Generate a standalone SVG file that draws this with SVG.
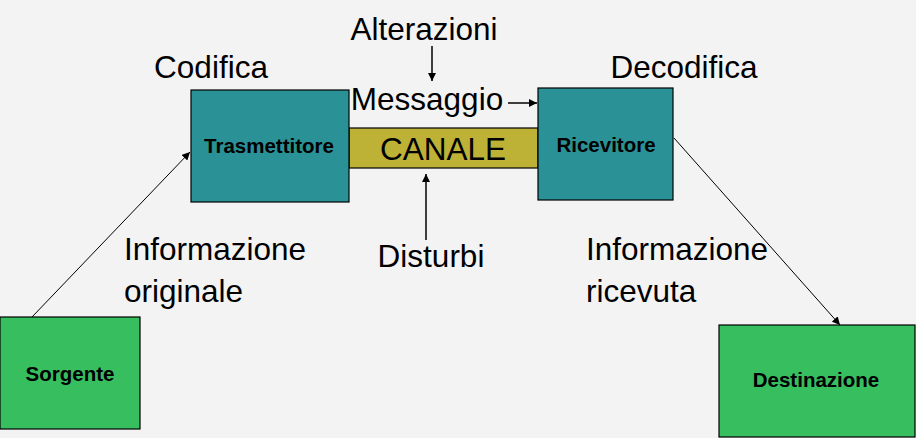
<svg xmlns="http://www.w3.org/2000/svg" width="916" height="438" viewBox="0 0 916 438">
<style>
.bg{fill:#F3F3F3}
.teal{fill:#2A9296;stroke:#000;stroke-width:1.2}
.green{fill:#36BE5F;stroke:#000;stroke-width:1.2}
.canale{fill:#BDB236;stroke:#000;stroke-width:1.2}
.lbl{font-family:"Liberation Sans",Arial,sans-serif;font-size:31.5px;fill:#000}
.node{font-family:"Liberation Sans",Arial,sans-serif;font-size:20.5px;font-weight:bold;fill:#000;text-anchor:middle}
.ln{stroke:#000;fill:none}
</style>
<defs>
<marker id="ah" viewBox="0 0 10 10" refX="10" refY="5" markerWidth="8" markerHeight="8" markerUnits="userSpaceOnUse" orient="auto">
<path d="M0,0 L10,5 L0,10 z" fill="#000"/>
</marker>
</defs>
<rect class="bg" x="0" y="0" width="916" height="438"/>
<g id="canale">
<rect class="canale" x="349" y="128" width="189" height="40"/>
<text class="lbl" x="443" y="160" text-anchor="middle">CANALE</text>
</g>
<g id="trasmettitore">
<rect class="teal" x="191" y="90" width="158" height="112"/>
<text class="node" x="269" y="153">Trasmettitore</text>
</g>
<g id="ricevitore">
<rect class="teal" x="538" y="88" width="135" height="112"/>
<text class="node" x="606" y="152">Ricevitore</text>
</g>
<g id="sorgente">
<rect class="green" x="0" y="317" width="140" height="112"/>
<text class="node" x="70" y="381">Sorgente</text>
</g>
<g id="destinazione">
<rect class="green" x="719" y="325" width="196" height="112"/>
<text class="node" x="816" y="387">Destinazione</text>
</g>
<g id="connectors">
<line class="ln" x1="32" y1="317" x2="190" y2="152" stroke-width="1" marker-end="url(#ah)"/>
<line class="ln" x1="674" y1="138" x2="840" y2="325" stroke-width="1" marker-end="url(#ah)"/>
<line class="ln" x1="432" y1="46" x2="432" y2="81" stroke-width="1.5" marker-end="url(#ah)"/>
<line class="ln" x1="508" y1="103" x2="537" y2="103" stroke-width="1.5" marker-end="url(#ah)"/>
<line class="ln" x1="426" y1="240" x2="426" y2="174" stroke-width="1.5" marker-end="url(#ah)"/>
</g>
<g id="labels">
<text class="lbl" x="424" y="40" text-anchor="middle">Alterazioni</text>
<text class="lbl" x="211" y="78" text-anchor="middle">Codifica</text>
<text class="lbl" x="684" y="78" text-anchor="middle">Decodifica</text>
<text class="lbl" x="427" y="110" text-anchor="middle">Messaggio</text>
<text class="lbl" x="124" y="260">Informazione</text>
<text class="lbl" x="124" y="302">originale</text>
<text class="lbl" x="431" y="267" text-anchor="middle">Disturbi</text>
<text class="lbl" x="586" y="260">Informazione</text>
<text class="lbl" x="586" y="302">ricevuta</text>
</g>
</svg>
